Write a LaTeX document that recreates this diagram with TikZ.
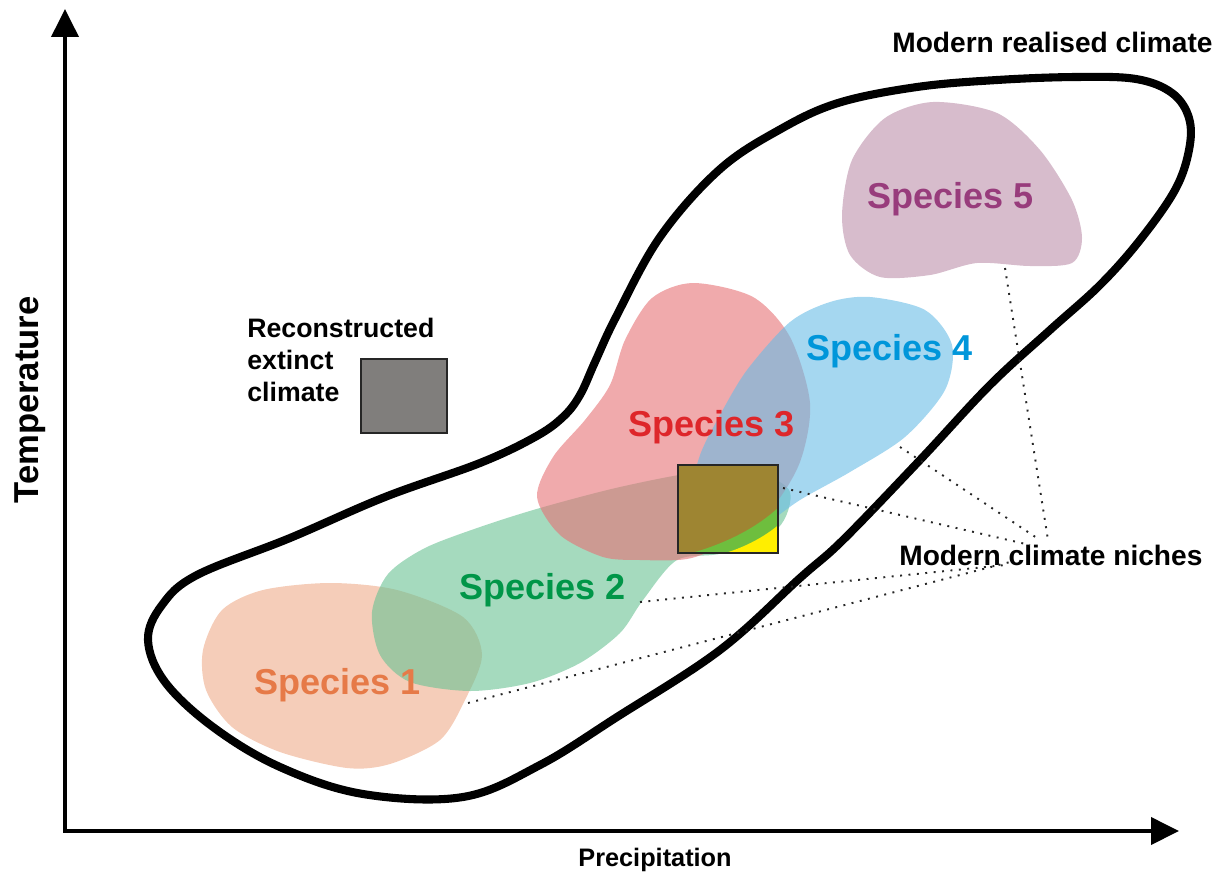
\documentclass[tikz,border=0pt]{standalone}
\usepackage{fontspec}
\setmainfont{Liberation Sans}
\usepackage{xcolor}
\usetikzlibrary{arrows.meta}

\definecolor{oneFill}{RGB}{238,172,138}
\definecolor{oneText}{RGB}{230,122,72}
\definecolor{twoFill}{RGB}{105,193,147}
\definecolor{twoText}{RGB}{0,150,72}
\definecolor{threeFill}{RGB}{230,113,117}
\definecolor{threeText}{RGB}{222,38,42}
\definecolor{fourFill}{RGB}{105,188,230}
\definecolor{fourText}{RGB}{0,150,218}
\definecolor{fiveFill}{RGB}{188,143,170}
\definecolor{fiveText}{RGB}{152,60,124}
\definecolor{boxGrey}{RGB}{128,126,124}
\definecolor{boxYellow}{RGB}{255,238,0}
\definecolor{boxOlive}{RGB}{158,133,50}
\definecolor{boxBand}{RGB}{110,190,62}

\begin{document}
\begin{tikzpicture}[x=0.02cm,y=-0.02cm,
    blob/.style={fill opacity=0.6,draw=none},
    speciestext/.style={font=\fontsize{20.5}{24}\selectfont\bfseries,anchor=base west,inner sep=0pt},
    labeltext/.style={font=\fontsize{16}{19}\selectfont\bfseries,inner sep=0pt},
    nicheline/.style={line width=1.1pt,dash pattern=on 1.1pt off 3.7pt,black!85},
    axisline/.style={line width=2.2pt,{Triangle[length=0.56cm,width=0.54cm]}-{Triangle[length=0.56cm,width=0.54cm]}}]
    \useasboundingbox (0,0) rectangle (1227,879);

    % Axes
    \coordinate (ytip) at (65,9);
    \coordinate (origin) at (65,831);
    \coordinate (xtip) at (1179,831);
    \draw[axisline] (ytip) -- (origin) -- (xtip);
    \node[font=\fontsize{19.7}{23}\selectfont\bfseries,rotate=90,anchor=base,inner sep=0pt] (templabel) at (38,400) {Temperature};
    \node[font=\fontsize{14.4}{17}\selectfont\bfseries,anchor=base,inner sep=0pt] (preclabel) at (655,866) {Precipitation};

    % Species 1
    \fill[blob,oneFill] plot[smooth cycle] coordinates {(263,590) (330,583) (397,590) (463,617) (482,655) (465,700) (440,740) (390,764) (347,768) (280,752) (232,727) (206,690) (203,650) (222,610)};
    % Species 2
    \fill[blob,twoFill] plot[smooth cycle] coordinates {(372,612) (388,574) (425,548) (480,527) (540,508) (620,487) (700,472) (760,474) (790,492) (778,528) (723,553) (677,560) (643,600) (620,633) (580,663) (530,683) (470,691) (410,682) (380,655)};
    % Species 3
    \fill[blob,threeFill] plot[smooth cycle] coordinates {(693,283) (753,297) (790,337) (810,403) (800,462) (770,510) (722,545) (687,559) (640,560) (603,557) (560,535) (537,497) (553,457) (585,420) (610,385) (625,340) (652,298)};
    % Species 4
    \fill[blob,fourFill] plot[smooth cycle] coordinates {(870,297) (925,310) (952,345) (945,390) (905,437) (850,472) (800,500) (760,528) (720,545) (697,535) (690,500) (700,455) (720,415) (747,370) (790,322) (830,302)};
    % Species 5
    \fill[blob,fiveFill] plot[smooth cycle] coordinates {(933,102) (997,113) (1040,150) (1072,200) (1082,238) (1072,263) (1030,266) (977,263) (930,275) (880,277) (850,255) (842,215) (852,160) (885,118)};

    % Yellow box seen through the niches
    \begin{scope}
        \clip (678,465) rectangle (778,553);
        \fill[boxOlive] (678,465) rectangle (778,553);
        \fill[boxBand] (680,556) .. controls (722,546) and (758,528) .. (782,504) -- (782,556) -- cycle;
        \fill[boxYellow] (714,556) .. controls (740,550) and (764,538) .. (782,522) -- (782,556) -- cycle;
    \end{scope}
    \draw[line width=1.3pt,black!85] (678,465) rectangle (778,553);

    % Modern realised climate
    \draw[line width=4.6pt] plot[smooth cycle,tension=0.6] coordinates {(1076,77) (1136,79) (1172,93) (1189,118) (1189,150) (1175,190) (1140,240) (1100,285) (1050,330) (990,385) (920,460) (843,540) (800,578) (720,650) (617,717) (540,765) (463,797) (363,794) (280,767) (213,727) (165,682) (148,640) (162,605) (197,575) (290,538) (385,497) (480,463) (535,437) (563,417) (580,395) (595,362) (616,317) (660,237) (719,170) (779,130) (838,103) (917,87) (997,80)};
    \node[labeltext,anchor=base west] (realised) at (892,52) {Modern realised climate};

    % Reconstructed extinct climate
    \draw[line width=1.3pt,black!85,fill=boxGrey] (361,359) rectangle (447,433);
    \node[font=\fontsize{15.2}{18.2}\selectfont\bfseries,align=left,anchor=base west,inner sep=0pt] (extinct) at (247,401) {Reconstructed\\extinct\\climate};

    % Species labels
    \node[speciestext,oneText] (sp1) at (254,694) {Species 1};
    \node[speciestext,twoText] (sp2) at (459,599) {Species 2};
    \node[speciestext,threeText] (sp3) at (628,436) {Species 3};
    \node[speciestext,fourText] (sp4) at (806,360) {Species 4};
    \node[speciestext,fiveText] (sp5) at (867,208) {Species 5};

    % Modern climate niches
    \node[labeltext,anchor=base west] (niches) at (899,565) {Modern climate niches};
    \coordinate (n1) at (468,703);
    \coordinate (n2) at (640,602);
    \coordinate (n3) at (783,488);
    \coordinate (n4) at (900,447);
    \coordinate (n5) at (1005,268);
    \coordinate (m1) at (1010,562);
    \coordinate (m2) at (1005,565);
    \coordinate (m3) at (1030,545);
    \coordinate (m4) at (1040,540);
    \coordinate (m5) at (1048,540);
    \foreach \i in {1,...,5}
        \draw[nicheline] (n\i) -- (m\i);
\end{tikzpicture}
\end{document}
